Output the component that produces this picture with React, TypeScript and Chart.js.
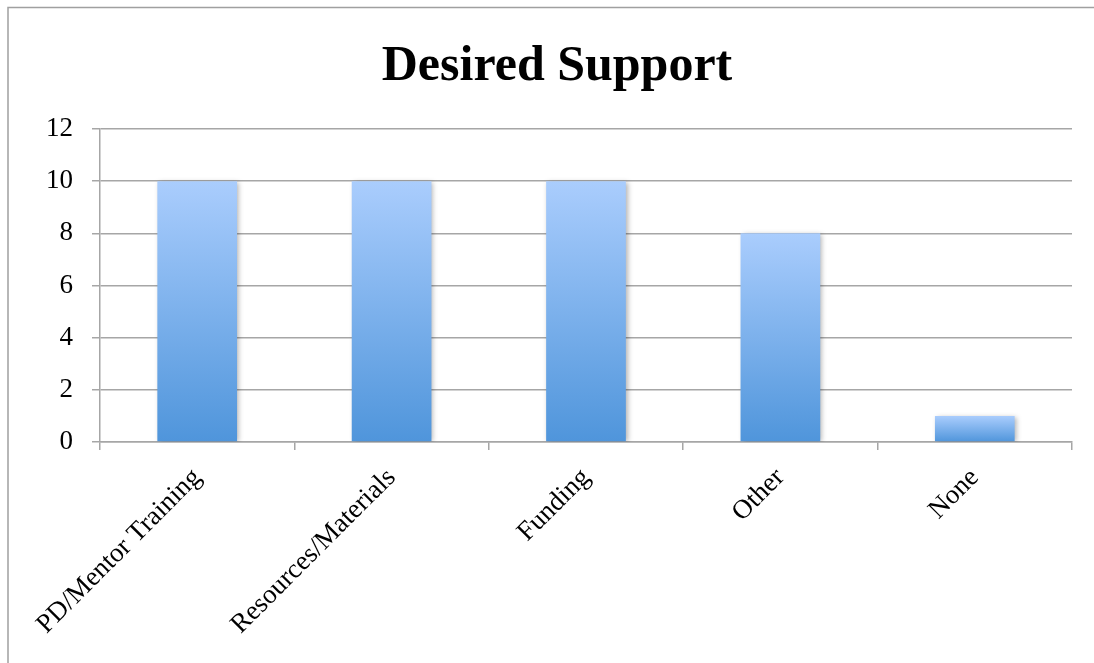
import React, { useEffect, useRef } from "react";
import { Chart, registerables } from "chart.js";

Chart.register(...registerables);

const categories = ["PD/Mentor Training", "Resources/Materials", "Funding", "Other", "None"];
const counts = [10, 10, 10, 8, 1];
const yMin = 0;
const yMax = 12;
const yStep = 2;
const chartTitle = "Desired Support";

export default function App() {
  const ref = useRef<HTMLCanvasElement | null>(null);

  useEffect(() => {
    const canvas = ref.current;
    if (!canvas) return;
    const gridColor = "#a6a6a6";
    const fontFamily = '"Liberation Serif", "Times New Roman", serif';

    const framePlugin = {
      id: "frameAndTitle",
      beforeDraw(chart: any) {
        const c = chart.ctx;
        c.save();
        c.fillStyle = "#ffffff";
        c.fillRect(0, 0, chart.width, chart.height);
        c.strokeStyle = "#a0a0a0";
        c.lineWidth = 1.5;
        c.beginPath();
        c.moveTo(8, chart.height + 2);
        c.lineTo(8, 7.5);
        c.lineTo(chart.width + 2, 7.5);
        c.stroke();
        c.restore();
      },
      afterDraw(chart: any) {
        const c = chart.ctx;
        c.save();
        let size = 44;
        c.font = `bold ${size}px ${fontFamily}`;
        const w = c.measureText(chartTitle).width;
        size = Math.min(50, (size * 360) / w);
        c.font = `bold ${size}px ${fontFamily}`;
        c.fillStyle = "#000000";
        c.textAlign = "center";
        c.textBaseline = "alphabetic";
        c.fillText(chartTitle, 557, 80);
        c.restore();
      },
    };

    const shadowPlugin = {
      id: "barShadow",
      beforeDatasetsDraw(chart: any) {
        const c = chart.ctx;
        c.save();
        c.shadowColor = "rgba(0,0,0,0.3)";
        c.shadowBlur = 5;
        c.shadowOffsetX = 2;
        c.shadowOffsetY = 1;
      },
      afterDatasetsDraw(chart: any) {
        chart.ctx.restore();
      },
    };

    const chart = new Chart(canvas, {
      type: "bar",
      data: {
        labels: categories,
        datasets: [
          {
            data: counts,
            backgroundColor: (ctx: any) => {
              const ch = ctx.chart;
              const { chartArea, scales } = ch;
              if (!chartArea || !scales || !scales.y || ctx.type !== "data") return "#7fb0ec";
              const v = counts[ctx.dataIndex];
              const top = scales.y.getPixelForValue(v);
              const bottom = scales.y.getPixelForValue(0);
              const g = ch.ctx.createLinearGradient(0, top, 0, bottom);
              g.addColorStop(0, "#aacdfd");
              g.addColorStop(1, "#4f95db");
              return g;
            },
            borderWidth: 0,
            barPercentage: 0.41,
            categoryPercentage: 1,
          },
        ],
      },
      options: {
        responsive: false,
        animation: false,
        layout: { padding: { left: 20, right: 22, top: 129, bottom: 0 } },
        plugins: {
          legend: { display: false },
          title: { display: false },
          tooltip: { enabled: false },
        },
        scales: {
          x: {
            offset: true,
            afterFit: (scale: any) => {
              scale.height = 221;
            },
            grid: {
              offset: true,
              drawOnChartArea: false,
              drawTicks: true,
              tickLength: 8,
              color: gridColor,
              lineWidth: 1.5,
            },
            border: { display: true, color: gridColor, width: 1.5 },
            ticks: {
              autoSkip: false,
              maxRotation: 45,
              minRotation: 45,
              padding: 12,
              color: "#000000",
              font: { family: fontFamily, size: 27 },
            },
          },
          y: {
            min: yMin,
            max: yMax,
            afterFit: (scale: any) => {
              scale.width = 80;
            },
            grid: {
              drawOnChartArea: true,
              drawTicks: true,
              tickLength: 8,
              color: gridColor,
              lineWidth: 1.5,
            },
            border: { display: true, color: gridColor, width: 1.5 },
            ticks: {
              stepSize: yStep,
              padding: 19,
              color: "#000000",
              font: { family: fontFamily, size: 27 },
            },
          },
        },
      },
      plugins: [framePlugin, shadowPlugin],
    });

    return () => {
      chart.destroy();
    };
  }, []);

  return (
    <div style={{ position: "fixed", left: 0, top: 0, width: 1094, height: 663, background: "#fff" }}>
      <canvas ref={ref} width={1094} height={663} style={{ width: 1094, height: 663, display: "block" }} />
    </div>
  );
}
